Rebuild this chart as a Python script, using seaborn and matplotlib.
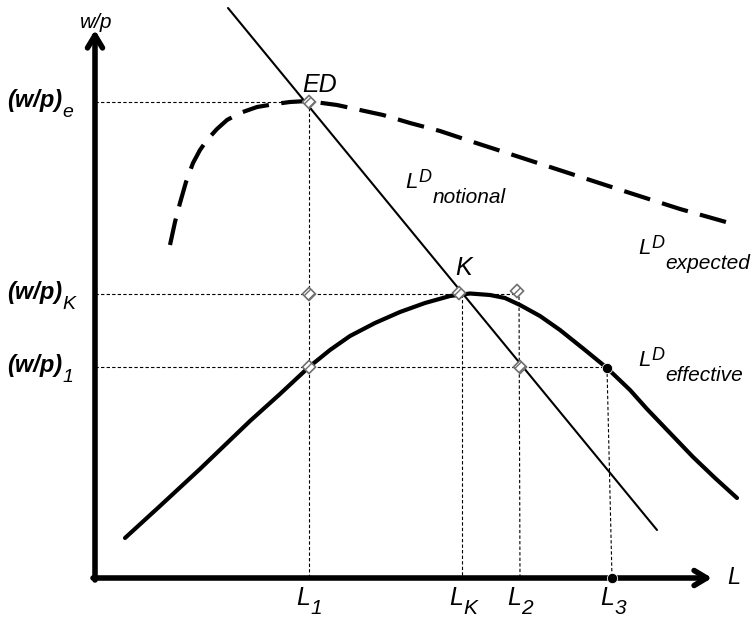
import numpy as np
import pandas as pd
import matplotlib
matplotlib.use("Agg")
import matplotlib.pyplot as plt
import seaborn as sns

# ---- data (diagram units: x to the right, y downward) ----
expected_x = [170, 175, 180, 186, 193, 200, 207, 217, 227, 240, 257, 275, 290, 307, 337,
              360, 383, 410, 440, 470, 507, 550, 590, 630, 680, 733]
expected_y = [245, 222, 203, 182, 163, 150, 140, 129, 120, 113, 107, 104, 102, 101, 105,
              110, 115, 123, 131, 141, 153, 167, 180, 193, 209, 224]

effective_x = [125, 160, 200, 250, 280, 309, 330, 350, 375, 400, 425, 450, 470, 490, 505,
               520, 540, 560, 585, 607, 630, 647, 670, 693, 715, 737]
effective_y = [538, 506, 469, 421, 394, 367, 350, 336, 323, 312, 303, 296, 293.5, 295, 298,
               305, 316, 330, 350, 368, 390, 409, 433, 457, 478, 498]

notional_x = [228, 657]
notional_y = [8, 530]

origin = (95, 578)
level_y = [102, 294, 367]
level_subs = ["e", "K", "1"]
L_pos = [309, 462, 520, 613]
L_subs = ["1", "K", "2", "3"]

open_pts_x = [309, 309, 309, 459, 517, 520]
open_pts_y = [102, 294, 367, 293, 291, 367]
dot_x = [607, 612]
dot_y = [368, 578]

sns.set_theme(style="white")
plt.rcParams["font.family"] = ["Liberation Sans", "DejaVu Sans"]
plt.rcParams["text.color"] = "black"

fig = plt.figure(figsize=(7.52, 6.19), dpi=100)
ax = fig.add_axes([0, 0, 1, 1])
ax.set_xlim(0, 752)
ax.set_ylim(619, 0)
ax.axis("off")

# guide lines
x0, y0 = origin
gl = dict(color="black", lw=0.8, ls=(0, (3, 2)))
ax.plot([x0, 309], [102, 102], **gl)
ax.plot([x0, 517], [294, 294], **gl)
ax.plot([x0, 607], [367, 367], **gl)
ax.plot([309, 309], [102, y0], **gl)
ax.plot([462, 462], [294, y0], **gl)
ax.plot([519, 520], [291, y0], **gl)
ax.plot([607, 612], [368, y0], **gl)

# curves
sns.lineplot(x=notional_x, y=notional_y, ax=ax, color="black", lw=1.5, sort=False, estimator=None)
sns.lineplot(x=effective_x, y=effective_y, ax=ax, color="black", lw=3, sort=False, estimator=None)
ax.plot(np.array(expected_x), np.array(expected_y), color="black", lw=3,
        ls=(0, (6.5, 3)), solid_joinstyle="round")

# markers
sns.scatterplot(x=open_pts_x, y=open_pts_y, ax=ax, marker="D", s=45, facecolor="white",
                edgecolor="#707070", linewidth=1.2, hatch="////", zorder=5)
sns.scatterplot(x=dot_x, y=dot_y, ax=ax, marker="o", s=55, color="black", zorder=6)

# axes arrows
ap = dict(arrowstyle="->,head_length=0.75,head_width=0.45", lw=4, color="black",
          shrinkA=0, shrinkB=0)
ax.annotate("", xy=(x0, 30), xytext=(x0, y0 + 2), arrowprops=ap)
ax.annotate("", xy=(712, y0), xytext=(x0 - 2, y0), arrowprops=ap)


def sub_label(x, y, main, sub, size, subsize, sub_drop, sup=None, supsize=None,
              weight="normal", style="italic"):
    t1 = ax.text(x, y, main, fontsize=size, style=style, fontweight=weight,
                 ha="left", va="baseline")
    prev = t1
    if sup is not None:
        prev = ax.annotate(sup, xy=(1, 1), xycoords=t1, xytext=(1, 2.5),
                           textcoords="offset points", fontsize=supsize, style="italic",
                           ha="left", va="top")
    ax.annotate(sub, xy=(1, 0), xycoords=(prev, t1), xytext=(0.5, -sub_drop),
                textcoords="offset points", fontsize=subsize, style="italic",
                ha="left", va="baseline")


# axis titles
ax.text(96, 22, "w/p", fontsize=15, style="italic", ha="center", va="center")
ax.text(734, 578, "L", fontsize=17, style="italic", ha="center", va="center")

# level labels (bold)
for yy, s in zip(level_y, level_subs):
    sub_label(7, yy + 5, "(w/p)", s, 17, 14, 3.5, weight="bold")

# L tick labels
for xx, s in zip(L_pos, L_subs):
    sub_label(xx - 13, 605, "L", s, 18, 15, 3)

ax.text(320, 85, "ED", fontsize=18, style="italic", ha="center", va="center")
ax.text(464, 268, "K", fontsize=18, style="italic", ha="center", va="center")

sub_label(405, 188, "L", "notional", 16, 15, 7, sup="D", supsize=13)
sub_label(638, 254, "L", "expected", 16, 15, 7, sup="D", supsize=13)
sub_label(638, 366, "L", "effective", 16, 15, 7, sup="D", supsize=13)

fig.savefig("out.png", dpi=100)
